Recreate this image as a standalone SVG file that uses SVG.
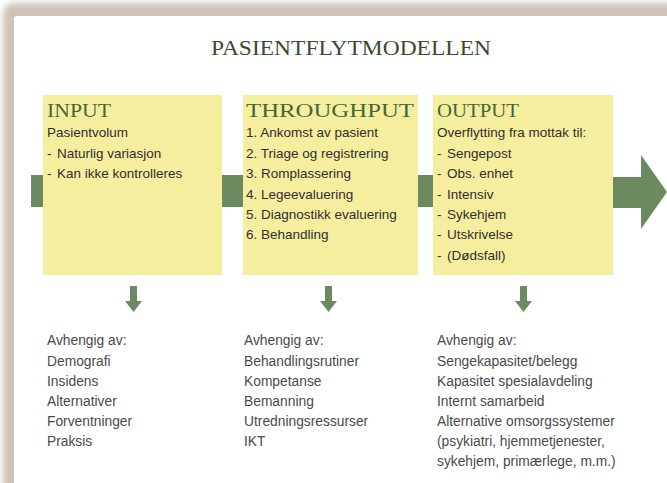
<svg xmlns="http://www.w3.org/2000/svg" width="667" height="483" viewBox="0 0 667 483">
<defs>
<filter id="blur" x="-5%" y="-5%" width="110%" height="110%"><feGaussianBlur stdDeviation="3"/></filter>
<style>
.box{fill:#f6ee9f;}
.conn{fill:#6c8a60;}
.title{font-family:"Liberation Serif",serif;font-size:22px;fill:#3b4a33;}
.head{font-family:"Liberation Serif",serif;font-size:19px;fill:#46673a;}
.body{font-family:"Liberation Sans",sans-serif;font-size:13.5px;fill:#2e2e2e;}
.dep{font-family:"Liberation Sans",sans-serif;font-size:13.8px;fill:#4a4a4a;}
</style>
</defs>
<rect x="0" y="0" width="667" height="483" fill="#ffffff"/>
<g id="frame">
<rect x="3" y="3" width="720" height="520" rx="10" fill="#cdc3b9" filter="url(#blur)"/>
<rect x="14" y="16" width="720" height="520" rx="3" fill="#ffffff"/>
</g>
<text class="title" x="351" y="55" text-anchor="middle" textLength="280" lengthAdjust="spacingAndGlyphs">PASIENTFLYTMODELLEN</text>
<g id="connectors">
<rect class="conn" x="31" y="175" width="12" height="32"/>
<rect class="conn" x="222" y="175" width="21" height="32"/>
<rect class="conn" x="418" y="175" width="15" height="32"/>
<polygon class="conn" points="613,177 641,177 641,155 667,192 641,229 641,208 613,208"/>
<polygon class="conn" points="130,286 137,286 137,301 142,301 133.5,312 125,301 130,301"/>
<polygon class="conn" points="325,286 332,286 332,301 337,301 328.5,312 320,301 325,301"/>
<polygon class="conn" points="520,286 527,286 527,301 532,301 523.5,312 515,301 520,301"/>
</g>
<g id="input">
<rect class="box" x="43" y="95" width="179" height="180"/>
<text class="head" x="47" y="117" textLength="64" lengthAdjust="spacingAndGlyphs">INPUT</text>
<text class="body" x="47" y="137">Pasientvolum</text>
<text class="body" x="47" y="158">-<tspan x="57">Naturlig variasjon</tspan></text>
<text class="body" x="47" y="178">-<tspan x="57">Kan ikke kontrolleres</tspan></text>
</g>
<g id="throughput">
<rect class="box" x="243" y="95" width="175" height="180"/>
<text class="head" x="246" y="117" textLength="168" lengthAdjust="spacingAndGlyphs">THROUGHPUT</text>
<text class="body" x="246" y="137">1. Ankomst av pasient</text>
<text class="body" x="246" y="158">2. Triage og registrering</text>
<text class="body" x="246" y="178">3. Romplassering</text>
<text class="body" x="246" y="199">4. Legeevaluering</text>
<text class="body" x="246" y="219">5. Diagnostikk evaluering</text>
<text class="body" x="246" y="239">6. Behandling</text>
</g>
<g id="output">
<rect class="box" x="433" y="95" width="180" height="180"/>
<text class="head" x="437" y="117" textLength="82" lengthAdjust="spacingAndGlyphs">OUTPUT</text>
<text class="body" x="437" y="137">Overflytting fra mottak til:</text>
<text class="body" x="437" y="158">-<tspan x="447">Sengepost</tspan></text>
<text class="body" x="437" y="178">-<tspan x="447">Obs. enhet</tspan></text>
<text class="body" x="437" y="199">-<tspan x="447">Intensiv</tspan></text>
<text class="body" x="437" y="219">-<tspan x="447">Sykehjem</tspan></text>
<text class="body" x="437" y="239">-<tspan x="447">Utskrivelse</tspan></text>
<text class="body" x="437" y="260">-<tspan x="447">(Dødsfall)</tspan></text>
</g>
<g id="input-deps">
<text class="dep" x="47" y="345">Avhengig av:</text>
<text class="dep" x="47" y="366">Demografi</text>
<text class="dep" x="47" y="386">Insidens</text>
<text class="dep" x="47" y="406">Alternativer</text>
<text class="dep" x="47" y="426">Forventninger</text>
<text class="dep" x="47" y="446">Praksis</text>
</g>
<g id="throughput-deps">
<text class="dep" x="244" y="345">Avhengig av:</text>
<text class="dep" x="244" y="366">Behandlingsrutiner</text>
<text class="dep" x="244" y="386">Kompetanse</text>
<text class="dep" x="244" y="406">Bemanning</text>
<text class="dep" x="244" y="426">Utredningsressurser</text>
<text class="dep" x="244" y="446">IKT</text>
</g>
<g id="output-deps">
<text class="dep" x="437" y="345">Avhengig av:</text>
<text class="dep" x="437" y="366">Sengekapasitet/belegg</text>
<text class="dep" x="437" y="386">Kapasitet spesialavdeling</text>
<text class="dep" x="437" y="406">Internt samarbeid</text>
<text class="dep" x="437" y="426">Alternative omsorgssystemer</text>
<text class="dep" x="437" y="446">(psykiatri, hjemmetjenester,</text>
<text class="dep" x="437" y="466">sykehjem, primærlege, m.m.)</text>
</g>
</svg>
